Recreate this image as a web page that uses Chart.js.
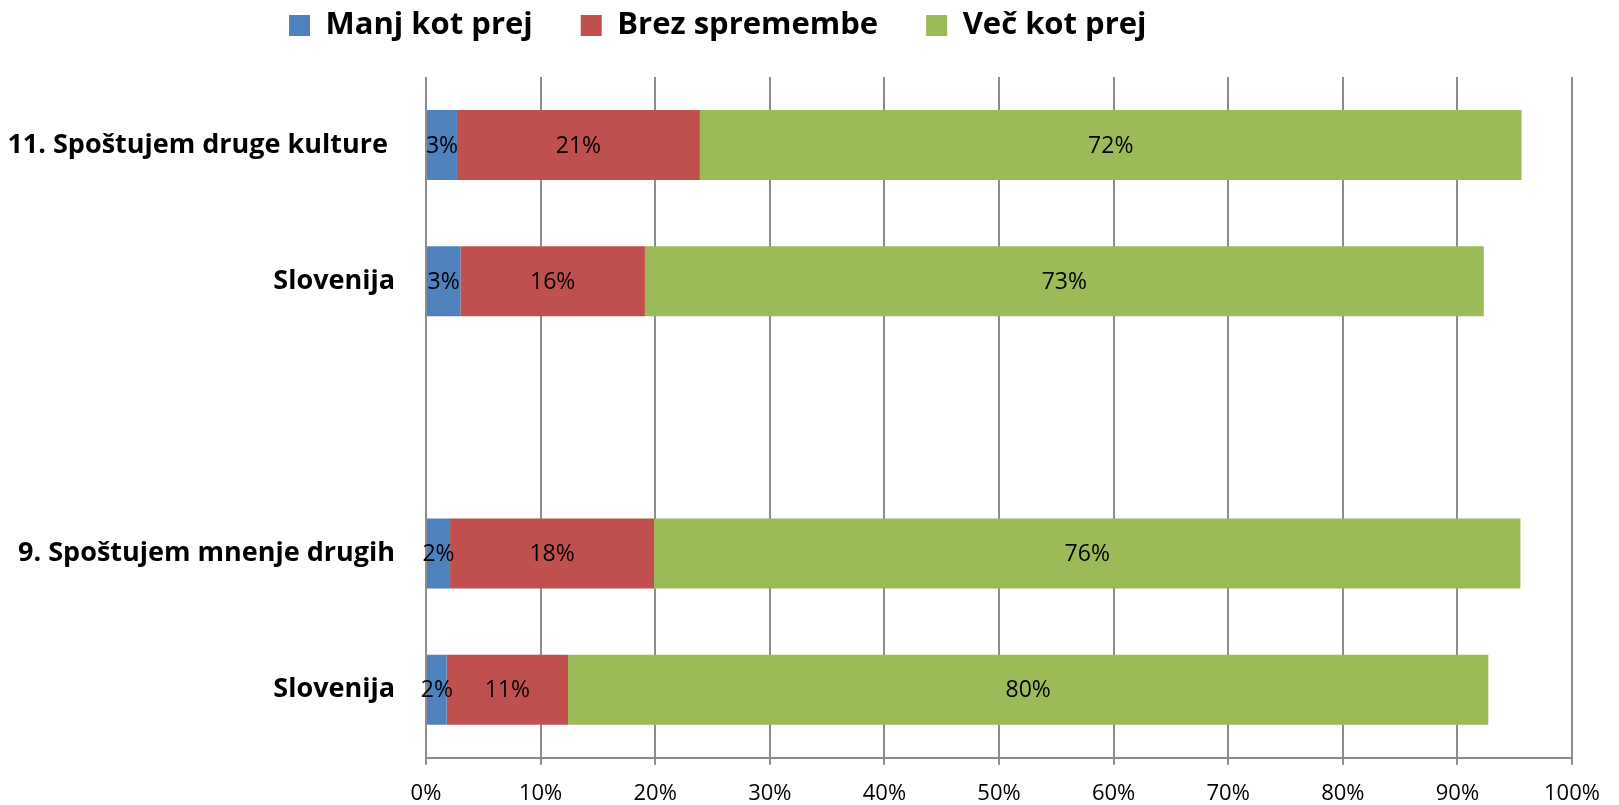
<!DOCTYPE html>
<html>
<head>
<meta charset="utf-8">
<style>
html,body{margin:0;padding:0;background:#ffffff;overflow:hidden}
#c{display:block}
</style>
<script src="https://cdn.jsdelivr.net/npm/chart.js@4.4.0/dist/chart.umd.min.js"></script>
</head>
<body>
<canvas id="c" width="1619" height="805"></canvas>
<script>
// ---- data ----
const categories = ['11. Spoštujem druge kulture ', 'Slovenija', '', '9. Spoštujem mnenje drugih', 'Slovenija'];
const seriesNames = ['Manj kot prej', 'Brez spremembe', 'Več kot prej'];
const manjKotPrej   = [2.7, 3.0, null, 2.1, 1.8];
const brezSpremembe = [21.2, 16.1, null, 17.8, 10.6];
const vecKotPrej    = [71.7, 73.2, null, 75.6, 80.3];
const xTickLabels = ['0%', '10%', '20%', '30%', '40%', '50%', '60%', '70%', '80%', '90%', '100%'];
const seriesColors = ['#4F81BD', '#C0504D', '#9BBB59'];

const FONT = "'Open Sans', 'Noto Sans', sans-serif";
const GRID = '#8c8c8c';

const legendPlacer = {
  id: 'legendPlacer',
  beforeLayout(chart) {
    const lg = chart.legend;
    if (lg && !lg._patched) {
      const orig = lg.fit;
      lg.fit = function () { orig.call(this); this.height = 77; };
      lg._patched = true;
    }
  },
  afterLayout(chart) {
    const lg = chart.legend;
    const pad = lg.options.labels.padding;
    lg.left = 289 - pad;
    lg.top = 10 - pad;
  }
};

const dataLabels = {
  id: 'dataLabels',
  afterDatasetsDraw(chart) {
    const ctx = chart.ctx;
    ctx.save();
    ctx.font = "23px " + FONT;
    ctx.fillStyle = '#000000';
    ctx.textAlign = 'center';
    ctx.textBaseline = 'middle';
    chart.data.datasets.forEach((ds, i) => {
      chart.getDatasetMeta(i).data.forEach((bar, j) => {
        const v = ds.data[j];
        if (v === null || v === undefined) return;
        const p = bar.getCenterPoint();
        ctx.fillText(Math.round(v) + '%', p.x, p.y + 1);
      });
    });
    ctx.restore();
  }
};

const seriesData = [manjKotPrej, brezSpremembe, vecKotPrej];

new Chart(document.getElementById('c'), {
  type: 'bar',
  data: {
    labels: categories,
    datasets: seriesNames.map((name, i) => ({
      label: name,
      data: seriesData[i],
      backgroundColor: seriesColors[i],
      borderWidth: 0,
      barPercentage: 0.514,
      categoryPercentage: 1.0,
      stack: 's'
    }))
  },
  options: {
    indexAxis: 'y',
    responsive: false,
    animation: false,
    events: [],
    layout: { padding: { left: 0, right: 47, top: 0, bottom: 0 } },
    plugins: {
      tooltip: { enabled: false },
      legend: {
        display: true,
        position: 'top',
        align: 'start',
        labels: {
          boxWidth: 21,
          boxHeight: 21,
          padding: 48,
          color: '#000000',
          font: { family: FONT, size: 31, weight: 'bold' }
        }
      }
    },
    scales: {
      x: {
        type: 'linear',
        stacked: true,
        min: 0,
        max: 100,
        ticks: {
          stepSize: 10,
          padding: 16,
          color: '#000000',
          font: { family: FONT, size: 22 },
          callback: (v, idx) => xTickLabels[idx]
        },
        grid: { color: GRID, lineWidth: 2, tickLength: 7, drawTicks: true },
        border: { display: true, color: GRID, width: 2 },
        afterFit(scale) { scale.height = 46; }
      },
      y: {
        type: 'category',
        stacked: true,
        ticks: {
          padding: 31,
          color: '#000000',
          font: { family: FONT, size: 27, weight: 'bold' }
        },
        grid: { display: false, drawTicks: false },
        border: { display: false },
        afterFit(scale) { scale.width = 426; }
      }
    }
  },
  plugins: [legendPlacer, dataLabels]
});
</script>
</body>
</html>
